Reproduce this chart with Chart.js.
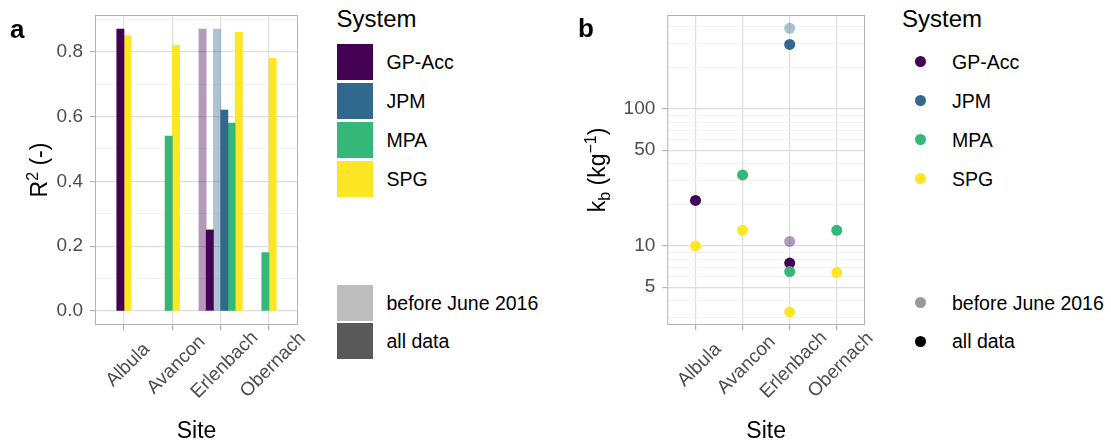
<!DOCTYPE html>
<html>
<head>
<meta charset="utf-8">
<script src="https://cdn.jsdelivr.net/npm/chart.js@4/dist/chart.umd.min.js"></script>
<style>
html,body{margin:0;padding:0;background:#fff;}
body{width:1111px;height:446px;position:relative;overflow:hidden;font-family:"Liberation Sans",Arial,sans-serif;color:#000;}
canvas{position:absolute;top:0;}
#ca{left:0;}
#cb{left:560px;}
.plabel{position:absolute;font-weight:bold;font-size:26px;line-height:26px;}
.ltitle{position:absolute;font-size:24px;line-height:24px;white-space:nowrap;}
.item{position:absolute;height:36px;display:flex;align-items:center;white-space:nowrap;font-size:19.5px;line-height:20px;}
.key{width:36px;height:36px;margin-right:14px;display:flex;align-items:center;justify-content:center;flex:none;}
.dot{width:11px;height:11px;border-radius:50%;}
</style>
</head>
<body>
<canvas id="ca" width="320" height="446"></canvas>
<canvas id="cb" width="320" height="446"></canvas>
<div class="plabel" style="left:10px;top:16px;">a</div>
<div class="plabel" style="left:578px;top:15px;">b</div>
<div id="lega"></div>
<div id="legb"></div>
<script>
// ---------- data ----------
const sites = ['Albula', 'Avancon', 'Erlenbach', 'Obernach'];
const systems = ['GP-Acc', 'JPM', 'MPA', 'SPG'];
const periods = ['before June 2016', 'all data'];
const legendTitle = 'System';

// Panel a: R² per site
const r2BeforeGPAcc = [null, null, 0.87, null];
const r2BeforeJPM   = [null, null, 0.87, null];
const r2BeforeMPA   = [null, null, null, null];
const r2BeforeSPG   = [null, null, null, null];
const r2AllGPAcc    = [0.87, null, 0.25, null];
const r2AllJPM      = [null, null, 0.62, null];
const r2AllMPA      = [null, 0.54, 0.58, 0.18];
const r2AllSPG      = [0.85, 0.82, 0.86, 0.78];

// Panel b: k_b per site
const kbBeforeGPAcc = [null, null, 10.8, null];
const kbBeforeJPM   = [null, null, 388, null];
const kbBeforeMPA   = [null, null, null, null];
const kbBeforeSPG   = [null, null, null, null];
const kbAllGPAcc    = [21.5, null, 7.5, null];
const kbAllJPM      = [null, null, 296, null];
const kbAllMPA      = [null, 33, 6.5, 13];
const kbAllSPG      = [10, 13, 3.3, 6.4];

// tick labels
const r2MajorTicks = [0, 0.2, 0.4, 0.6, 0.8];
const r2MinorTicks = [0.1, 0.3, 0.5, 0.7, 0.9];
const kbMajorTicks = [5, 10, 50, 100];
const kbMinorTicks = [3, 4, 6, 7, 8, 9, 20, 30, 40, 60, 70, 80, 90, 200, 300, 400];

// ---------- styles ----------
const systemColors = ['#440154', '#31688E', '#35B779', '#FDE725'];
const beforeAlpha = 0.4;
const FONT = '"Liberation Sans", Arial, sans-serif';
const TICK_COLOR = '#4d4d4d';
const GRID_MAJOR = '#dedede';
const GRID_MINOR = '#f0f0f0';
const BORDER = '#b3b3b3';

function rgba(hex, a) {
  const n = parseInt(hex.slice(1), 16);
  return 'rgba(' + ((n >> 16) & 255) + ',' + ((n >> 8) & 255) + ',' + (n & 255) + ',' + a + ')';
}

const r2Series = [[r2BeforeGPAcc, r2AllGPAcc], [r2BeforeJPM, r2AllJPM], [r2BeforeMPA, r2AllMPA], [r2BeforeSPG, r2AllSPG]];
const kbSeries = [[kbBeforeGPAcc, kbAllGPAcc], [kbBeforeJPM, kbAllJPM], [kbBeforeMPA, kbAllMPA], [kbBeforeSPG, kbAllSPG]];

// flatten to (system, period) series
function flatten(series) {
  const out = [];
  series.forEach((pair, si) => pair.forEach((vals, pi) => out.push({ si, pi, vals })));
  return out;
}

// ---------- panel a: dodged bars ----------
const r2Flat = flatten(r2Series);
const perSite = sites.map((_, j) => r2Flat.filter(s => s.vals[j] !== null));
const maxN = Math.max(...perSite.map(l => l.length));
const dodgeStep = 0.9 / maxN;
const barDatasets = r2Flat.map(s => {
  const data = [];
  sites.forEach((_, j) => {
    if (s.vals[j] === null) return;
    const list = perSite[j];
    const k = list.indexOf(s);
    data.push({ x: j + 1 + (k - (list.length - 1) / 2) * dodgeStep, y: s.vals[j] });
  });
  const c = systemColors[s.si];
  return {
    label: systems[s.si] + ' (' + periods[s.pi] + ')',
    data,
    backgroundColor: s.pi === 0 ? rgba(c, beforeAlpha) : c,
    borderWidth: 0,
    grouped: false,
    categoryPercentage: 1,
    barPercentage: 1
  };
}).filter(d => d.data.length);

// ---------- panel b: points ----------
const kbFlat = flatten(kbSeries);
const pointDatasets = kbFlat.map((s, idx) => {
  const data = [];
  sites.forEach((_, j) => { if (s.vals[j] !== null) data.push({ x: j + 1, y: s.vals[j] }); });
  const c = systemColors[s.si];
  const col = s.pi === 0 ? rgba(c, beforeAlpha) : c;
  return {
    label: systems[s.si] + ' (' + periods[s.pi] + ')',
    data,
    backgroundColor: col,
    borderColor: col,
    borderWidth: 0,
    pointRadius: 5.5,
    showLine: false,
    order: -idx
  };
}).filter(d => d.data.length);

// ---------- plugins ----------
const panelBorder = {
  id: 'panelBorder',
  afterDraw(chart) {
    const { ctx, chartArea: a } = chart;
    ctx.save();
    ctx.strokeStyle = BORDER;
    ctx.lineWidth = 1;
    ctx.strokeRect(a.left + 0.5, a.top + 0.5, a.right - a.left - 1, a.bottom - a.top - 1);
    ctx.restore();
  }
};

const siteLabels = {
  id: 'siteLabels',
  afterDraw(chart) {
    const { ctx, chartArea: a } = chart;
    const xs = chart.scales.x;
    ctx.save();
    ctx.font = '19px ' + FONT;
    ctx.fillStyle = TICK_COLOR;
    ctx.textAlign = 'center';
    ctx.textBaseline = 'middle';
    sites.forEach((s, i) => {
      const px = xs.getPixelForValue(i + 1);
      ctx.save();
      ctx.translate(px + 4, a.bottom + 40);
      ctx.rotate(-Math.PI / 4);
      ctx.fillText(s, 0, 0);
      ctx.restore();
    });
    ctx.restore();
  }
};

function richYTitle(id, x, parts) {
  return {
    id,
    afterDraw(chart) {
      const { ctx, chartArea: a } = chart;
      ctx.save();
      ctx.fillStyle = '#000';
      ctx.textBaseline = 'alphabetic';
      ctx.textAlign = 'left';
      let total = 0;
      parts.forEach(p => { ctx.font = p.s + 'px ' + FONT; p.w = ctx.measureText(p.t).width; total += p.w; });
      ctx.translate(x, (a.top + a.bottom) / 2);
      ctx.rotate(-Math.PI / 2);
      let cx = -total / 2;
      parts.forEach(p => {
        ctx.font = p.s + 'px ' + FONT;
        ctx.fillText(p.t, cx, 7 + p.dy);
        cx += p.w;
      });
      ctx.restore();
    }
  };
}

function gridOpts(isMajor) {
  return {
    color: c => (c.tick && isMajor(c.tick.value)) ? GRID_MAJOR : GRID_MINOR,
    lineWidth: c => (c.tick && isMajor(c.tick.value)) ? 1.2 : 0.8,
    tickColor: c => (c.tick && isMajor(c.tick.value)) ? BORDER : 'rgba(0,0,0,0)',
    tickLength: 5,
    drawTicks: true,
    offset: false
  };
}

function xScale() {
  return {
    type: 'linear',
    min: 0.4,
    max: 4.6,
    bounds: 'data',
    offset: false,
    afterBuildTicks: s => { s.ticks = sites.map((_, i) => ({ value: i + 1 })); },
    afterFit: s => { s.height = 121; s.paddingLeft = 0; s.paddingRight = 0; },
    ticks: { display: false, autoSkip: false },
    grid: gridOpts(() => true),
    border: { display: false },
    title: { display: true, text: 'Site', color: '#000', font: { family: FONT, size: 23 }, padding: { top: 0, bottom: 1 } }
  };
}

const commonOpts = {
  responsive: false,
  animation: false,
  events: [],
  plugins: { legend: { display: false }, tooltip: { enabled: false } }
};

// Panel a
const r2IsMajor = v => r2MajorTicks.some(t => Math.abs(t - v) < 1e-9);
new Chart(document.getElementById('ca'), {
  type: 'bar',
  data: { datasets: barDatasets },
  options: Object.assign({}, commonOpts, {
    layout: { padding: { top: 15, right: 22, bottom: 0, left: 0 } },
    scales: {
      x: xScale(),
      y: {
        type: 'linear',
        min: -0.0435,
        max: 0.9135,
        bounds: 'data',
        afterBuildTicks: s => { s.ticks = r2MajorTicks.concat(r2MinorTicks).sort((a, b) => a - b).map(v => ({ value: v })); },
        afterFit: s => { s.width = 95; s.paddingTop = 0; s.paddingBottom = 0; },
        ticks: {
          autoSkip: false,
          padding: 7,
          color: TICK_COLOR,
          font: { family: FONT, size: 19 },
          callback: v => r2IsMajor(v) ? v.toFixed(1) : ''
        },
        grid: gridOpts(r2IsMajor),
        border: { display: false }
      }
    }
  }),
  plugins: [panelBorder, siteLabels, richYTitle('r2Title', 40, [
    { t: 'R', s: 23, dy: 0 }, { t: '2', s: 16, dy: -9 }, { t: ' (-)', s: 23, dy: 0 }
  ])]
});

// Panel b
const kbIsMajor = v => kbMajorTicks.includes(v);
new Chart(document.getElementById('cb'), {
  type: 'scatter',
  data: { datasets: pointDatasets },
  options: Object.assign({}, commonOpts, {
    layout: { padding: { top: 15, right: 15, bottom: 0, left: 0 } },
    scales: {
      x: xScale(),
      y: {
        type: 'logarithmic',
        min: 2.65,
        max: 485,
        bounds: 'data',
        afterBuildTicks: s => { s.ticks = kbMajorTicks.concat(kbMinorTicks).sort((a, b) => a - b).map(v => ({ value: v })); },
        afterFit: s => { s.width = 107.3; s.paddingTop = 0; s.paddingBottom = 0; },
        ticks: {
          autoSkip: false,
          padding: 7,
          color: TICK_COLOR,
          font: { family: FONT, size: 19 },
          callback: v => kbIsMajor(v) ? String(v) : ''
        },
        grid: gridOpts(kbIsMajor),
        border: { display: false }
      }
    }
  }),
  plugins: [panelBorder, siteLabels, richYTitle('kbTitle', 38, [
    { t: 'k', s: 23, dy: 0 }, { t: 'b', s: 16, dy: 5 }, { t: ' (kg', s: 23, dy: 0 }, { t: '\u22121', s: 16, dy: -9 }, { t: ')', s: 23, dy: 0 }
  ])]
});

// ---------- legends (HTML text) ----------
const itemTops = [43.5, 82.5, 121.5, 160.5];
const periodTops = [284.5, 323];
const periodSwatch = [rgba('#595959', beforeAlpha), '#595959'];
const periodDot = [rgba('#000000', beforeAlpha), '#000000'];

function buildLegend(el, left, kind) {
  let html = '<div class="ltitle" style="left:' + left + 'px;top:6.5px;">' + legendTitle + '</div>';
  systems.forEach((s, i) => {
    const key = kind === 'box'
      ? '<div class="key" style="background:' + systemColors[i] + '"></div>'
      : '<div class="key"><div class="dot" style="background:' + systemColors[i] + '"></div></div>';
    html += '<div class="item" style="left:' + left + 'px;top:' + itemTops[i] + 'px;">' + key + '<span>' + s + '</span></div>';
  });
  periods.forEach((p, i) => {
    const key = kind === 'box'
      ? '<div class="key" style="background:' + periodSwatch[i] + '"></div>'
      : '<div class="key"><div class="dot" style="background:' + periodDot[i] + '"></div></div>';
    html += '<div class="item" style="left:' + left + 'px;top:' + periodTops[i] + 'px;">' + key + '<span>' + p + '</span></div>';
  });
  el.innerHTML = html;
}
buildLegend(document.getElementById('lega'), 336.5, 'box');
buildLegend(document.getElementById('legb'), 902, 'dot');
</script>
</body>
</html>
